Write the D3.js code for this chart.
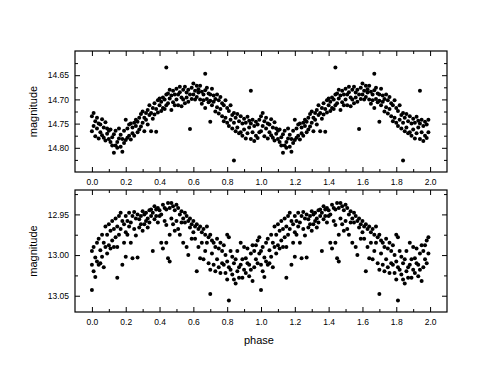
<!DOCTYPE html>
<html><head><meta charset="utf-8">
<script src="https://cdn.jsdelivr.net/npm/d3@7"></script>
<style>html,body{margin:0;padding:0;background:#fff;}svg{display:block;font-family:"Liberation Sans",Arial,Helvetica,sans-serif;}</style>
</head><body><svg id="c" width="491" height="373"></svg>
<script>
// Phase-folded light curves. Each row: [phase, magnitude, magnitude, ...] for phase 0-1;
// the chart repeats the same cycle for phase 1-2.
const topRows = [
[0.00,14.735,14.766],[0.01,14.728,14.755],[0.02,14.745,14.776],[0.03,14.738,14.760],[0.04,14.750,14.781],
[0.05,14.752,14.768],[0.06,14.741,14.774],[0.07,14.758,14.779],[0.08,14.747,14.785],[0.09,14.771,14.760],
[0.10,14.765,14.782],[0.11,14.762,14.788],[0.12,14.778,14.795],[0.13,14.810,14.772],[0.14,14.795,14.765],
[0.15,14.788,14.800],[0.16,14.781,14.760],[0.17,14.773,14.798],[0.18,14.808,14.782],[0.19,14.765,14.790],
[0.20,14.742,14.784],[0.21,14.760,14.779],[0.22,14.752,14.775],[0.23,14.750,14.783],[0.24,14.758,14.770],
[0.25,14.748,14.775],[0.26,14.755,14.742],[0.27,14.746,14.768],[0.28,14.738,14.762],[0.29,14.730,14.756],
[0.30,14.725,14.748],[0.31,14.738,14.766],[0.32,14.742,14.728],[0.33,14.722,14.752],[0.34,14.732,14.712],
[0.35,14.728,14.766],[0.36,14.718,14.740],[0.37,14.708,14.731],[0.38,14.720,14.767],[0.39,14.702,14.727],
[0.40,14.712,14.698],[0.41,14.705,14.724],[0.42,14.696,14.718],[0.43,14.700,14.720],[0.44,14.634,14.690,14.712],
[0.45,14.688,14.708],[0.46,14.698,14.680],[0.47,14.692,14.722],[0.48,14.682,14.706],[0.49,14.690,14.712],
[0.50,14.678,14.700],[0.51,14.690,14.712],[0.52,14.685,14.674],[0.53,14.696,14.714],[0.54,14.680,14.700],
[0.55,14.674,14.708],[0.56,14.686,14.696],[0.57,14.680,14.705],[0.58,14.761,14.690],[0.59,14.676,14.699],
[0.60,14.667,14.690],[0.61,14.682,14.700],[0.62,14.672,14.695],[0.63,14.686,14.679],[0.64,14.672,14.700],
[0.65,14.684,14.709],[0.66,14.690,14.702],[0.67,14.647,14.681,14.718],[0.68,14.676,14.699],[0.69,14.688,14.706],
[0.70,14.746,14.690,14.703],[0.71,14.678,14.712],[0.72,14.692,14.705],[0.73,14.699,14.725],[0.74,14.690,14.716],
[0.75,14.702,14.729],[0.76,14.695,14.720],[0.77,14.708,14.735],[0.78,14.712,14.745],[0.79,14.702,14.738],
[0.80,14.718,14.748],[0.81,14.724,14.755],[0.82,14.712,14.742],[0.83,14.732,14.760],[0.84,14.826,14.728,14.748],
[0.85,14.738,14.766],[0.86,14.730,14.758],[0.87,14.745,14.770],[0.88,14.735,14.768],[0.89,14.750,14.775],
[0.90,14.740,14.762],[0.91,14.748,14.781],[0.92,14.736,14.770],[0.93,14.758,14.744],[0.94,14.682,14.750,14.782],
[0.95,14.742,14.768],[0.96,14.755,14.786],[0.97,14.746,14.775],[0.98,14.752,14.780],[0.99,14.742,14.768]
];
const bottomRows = [
[0.00,12.995,13.012,13.043],[0.01,12.990,13.020],[0.02,13.003,13.027],[0.03,12.985,13.008],[0.04,12.980,13.012],
[0.05,12.994,13.010],[0.06,12.975,13.002],[0.07,12.985,13.015],[0.08,12.965,12.990],[0.09,12.975,12.998],
[0.10,12.962,12.988],[0.11,12.970,12.992],[0.12,12.982,12.958],[0.13,12.968,12.990],[0.14,12.955,12.978],
[0.15,13.028,12.965,12.990],[0.16,12.952,12.975],[0.17,12.948,12.968],[0.18,12.958,13.012],[0.19,12.962,12.985],
[0.20,12.952,12.972,13.002],[0.21,12.958,12.975],[0.22,12.948,12.965],[0.23,12.960,12.985],[0.24,12.952,13.004],
[0.25,12.947,12.968],[0.26,12.955,12.976],[0.27,12.950,13.003],[0.28,12.956,12.966],[0.29,12.952,12.962],
[0.30,12.946,12.970],[0.31,12.950,12.962],[0.32,12.948,12.958],[0.33,12.955,12.966],[0.34,12.945,12.960],
[0.35,12.944,12.952],[0.36,12.948,12.995],[0.37,12.940,12.956],[0.38,12.944,12.952],[0.39,12.942,12.960],
[0.40,12.945,12.952],[0.41,12.985,12.950],[0.42,12.938,12.992],[0.43,12.942,12.958],[0.44,12.944,12.963,12.985],
[0.45,12.936,13.004],[0.46,12.942,13.008,12.975],[0.47,12.936,12.955],[0.48,12.940,12.962],[0.49,12.945,12.970],
[0.50,12.938,12.958],[0.51,12.942,12.968],[0.52,12.950,12.975],[0.53,12.946,12.960],[0.54,12.955,12.985],
[0.55,12.960,12.948],[0.56,12.952,12.990],[0.57,12.958,13.000],[0.58,12.955,12.966],[0.59,12.962,12.980],
[0.60,12.958,12.972],[0.61,12.965,12.980],[0.62,12.962,13.020],[0.63,12.968,12.990],[0.64,12.965,13.004],
[0.65,12.972,12.985],[0.66,12.968,13.005],[0.67,12.975,12.995],[0.68,12.965,12.985],[0.69,12.978,13.010],
[0.70,13.048,12.975,13.018],[0.71,12.982,12.998],[0.72,12.985,13.012],[0.73,12.990,13.020],[0.74,12.980,13.005],
[0.75,12.992,13.015],[0.76,12.985,13.022],[0.77,12.995,13.010],[0.78,12.988,13.012],[0.79,13.000,13.022],
[0.80,12.975,13.008,13.030],[0.81,13.056,12.978,13.015],[0.82,12.995,13.018],[0.83,13.002,13.024],[0.84,13.010,13.030],
[0.85,13.005,13.035],[0.86,12.995,13.020],[0.87,13.015,13.028],[0.88,12.985,13.012],[0.89,13.005,13.028],
[0.90,12.990,13.018],[0.91,13.004,13.022],[0.92,12.992,13.010],[0.93,13.012,13.026],[0.94,12.998,13.018],
[0.95,12.988,13.032],[0.96,12.995,13.015],[0.97,12.988,13.005],[0.98,12.982,13.010],[0.99,12.978,12.998]
];
const cycles = [0, 1];
const xMajorTicks = [0.0,0.2,0.4,0.6,0.8,1.0,1.2,1.4,1.6,1.8,2.0];
const xMinorTicks = [0.1,0.3,0.5,0.7,0.9,1.1,1.3,1.5,1.7,1.9];
const topYTicks = [14.65,14.70,14.75,14.80];
const topYMinor = [14.625,14.675,14.725,14.775,14.825];
const bottomYTicks = [12.95,13.00,13.05];
const bottomYMinor = [12.925,12.975,13.025];
const xTitle = "phase";
const yTitle = "magnitude";

function expand(rows){
  const pts = [];
  cycles.forEach(c => rows.forEach(r => { for(let i=1;i<r.length;i++) pts.push([r[0]+c, r[i]]); }));
  return pts;
}

const svg = d3.select("#c");
const L = 75, R = 447;
const x = d3.scaleLinear().domain([-0.1, 2.1]).range([L, R]);

function panel(rows, yDomain, top, bottom, yTicks, yMinor){
  const y = d3.scaleLinear().domain(yDomain).range([top, bottom]);
  const g = svg.append("g");
  const pts = expand(rows);
  g.append("g").selectAll("circle").data(pts).join("circle")
    .attr("cx", d => x(d[0])).attr("cy", d => y(d[1])).attr("r", 2).attr("fill", "#000");
  const maj = 5, mnr = 3;
  const fmtX = d3.format(".1f"), fmtY = d3.format(".2f");
  g.append("g").attr("transform", `translate(0,${bottom})`)
    .call(d3.axisBottom(x).tickValues(xMajorTicks).tickSize(-maj).tickPadding(7).tickFormat(fmtX));
  g.append("g").attr("transform", `translate(0,${bottom})`)
    .call(d3.axisBottom(x).tickValues(xMinorTicks).tickSize(-mnr).tickFormat(""));
  g.append("g").attr("transform", `translate(0,${top})`)
    .call(d3.axisTop(x).tickValues(xMajorTicks).tickSize(-maj).tickFormat(""));
  g.append("g").attr("transform", `translate(0,${top})`)
    .call(d3.axisTop(x).tickValues(xMinorTicks).tickSize(-mnr).tickFormat(""));
  g.append("g").attr("transform", `translate(${L},0)`)
    .call(d3.axisLeft(y).tickValues(yTicks).tickSize(-maj).tickPadding(6).tickFormat(fmtY));
  g.append("g").attr("transform", `translate(${L},0)`)
    .call(d3.axisLeft(y).tickValues(yMinor).tickSize(-mnr).tickFormat(""));
  g.append("g").attr("transform", `translate(${R},0)`)
    .call(d3.axisRight(y).tickValues(yTicks).tickSize(-maj).tickFormat(""));
  g.append("g").attr("transform", `translate(${R},0)`)
    .call(d3.axisRight(y).tickValues(yMinor).tickSize(-mnr).tickFormat(""));
  g.selectAll(".domain").remove();
  g.selectAll(".tick line").attr("stroke", "#000").attr("stroke-width", 1);
  g.selectAll(".tick text").attr("fill", "#000").style("font-size", "8.5px").style("font-family", "'Liberation Sans',Arial,sans-serif");
  g.append("rect").attr("x", L).attr("y", top).attr("width", R - L).attr("height", bottom - top)
    .attr("fill", "none").attr("stroke", "#000").attr("stroke-width", 1.2);
  g.append("text").attr("transform", `translate(37,${(top+bottom)/2}) rotate(-90)`)
    .attr("text-anchor", "middle").style("font-size", "11px").text(yTitle);
}

panel(topRows, [14.60, 14.85], 51, 172, topYTicks, topYMinor);
panel(bottomRows, [12.92, 13.07], 190, 312, bottomYTicks, bottomYMinor);

svg.append("text").attr("x", x(1.0) - 2).attr("y", 344).attr("text-anchor", "middle")
  .style("font-size", "11px").text(xTitle);
</script>
</body></html>
